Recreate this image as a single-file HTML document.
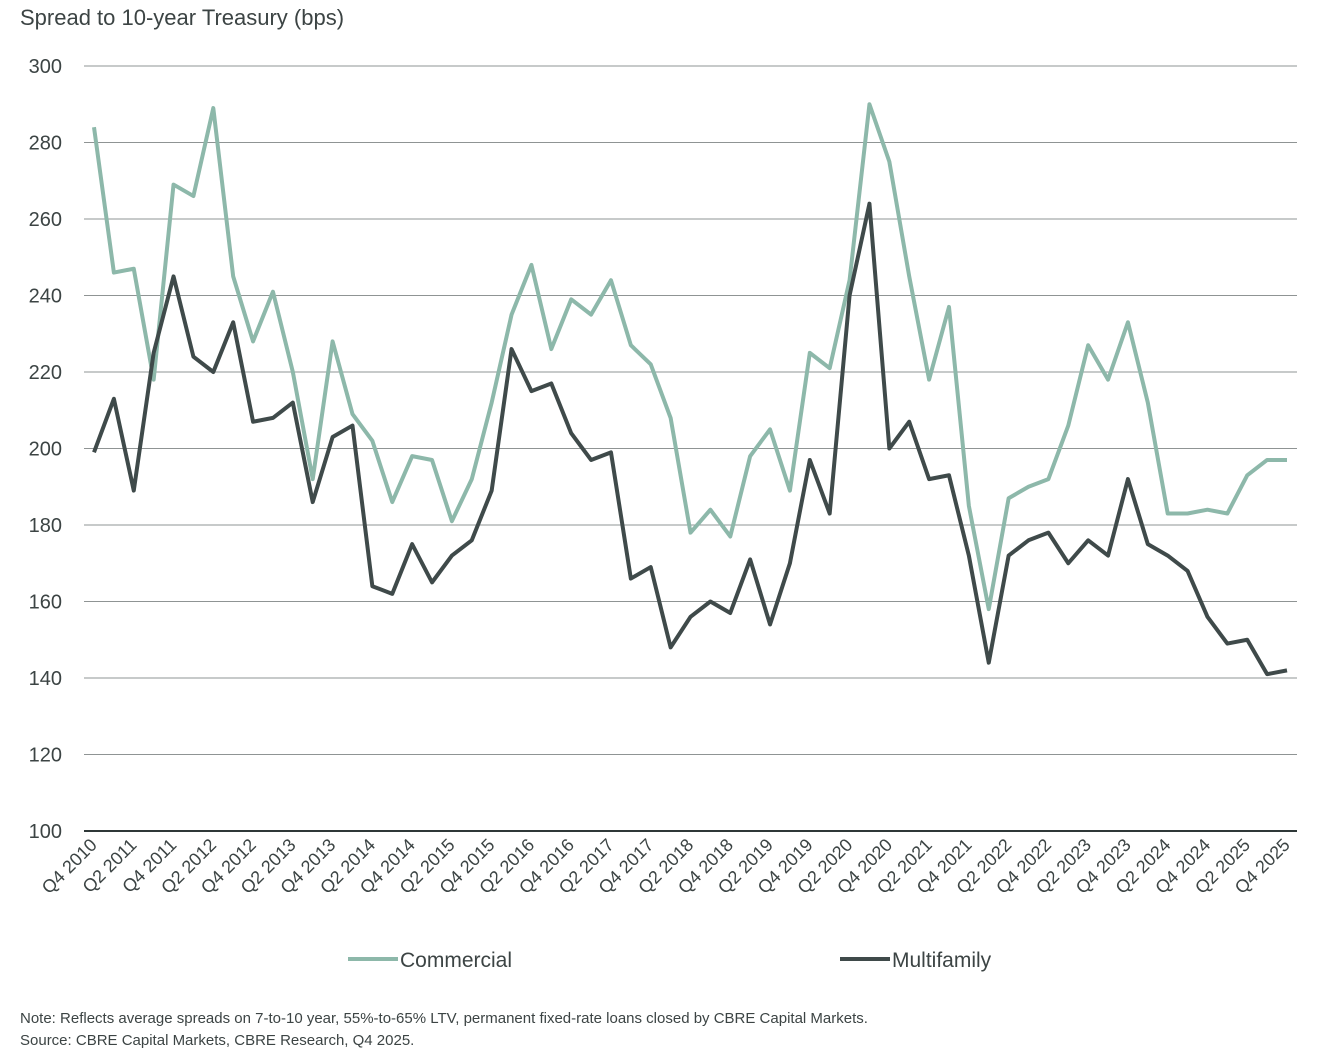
<!DOCTYPE html>
<html><head><meta charset="utf-8"><style>
body{margin:0;background:#fff;font-family:"Liberation Sans",sans-serif;}
svg text{font-family:"Liberation Sans",sans-serif;fill:#3c4444;}
</style></head><body>
<svg id="chart" width="1332" height="1056">
<text x="20" y="25" font-size="22">Spread to 10-year Treasury (bps)</text>
<g id="grid"></g><g id="xlabels"></g><g id="lines"></g>
<g>
<line x1="348" y1="959" x2="398" y2="959" stroke="#8db8aa" stroke-width="4"/>
<text x="400" y="967" font-size="21">Commercial</text>
<line x1="840" y1="959" x2="890" y2="959" stroke="#3f4a4a" stroke-width="4"/>
<text x="892" y="967" font-size="21">Multifamily</text>
</g>
<text x="20" y="1023" font-size="15">Note: Reflects average spreads on 7-to-10 year, 55%-to-65% LTV, permanent fixed-rate loans closed by CBRE Capital Markets.</text>
<text x="20" y="1045" font-size="15">Source: CBRE Capital Markets, CBRE Research, Q4 2025.</text>
</svg>
<script>
const commercial=[284,246,247,218,269,266,289,245,228,241,220,192,228,209,202,186,198,197,181,192,212,235,248,226,239,235,244,227,222,208,178,184,177,198,205,189,225,221,244,290,275,245,218,237,185,158,187,190,192,206,227,218,233,212,183,183,184,183,193,197,197];
const multifamily=[199,213,189,225,245,224,220,233,207,208,212,186,203,206,164,162,175,165,172,176,189,226,215,217,204,197,199,166,169,148,156,160,157,171,154,170,197,183,240,264,200,207,192,193,172,144,172,176,178,170,176,172,192,175,172,168,156,149,150,141,142];
const yTicks=[100,120,140,160,180,200,220,240,260,280,300];
const quarters=[];for(let y=2010;y<=2025;y++){for(const q of[2,4]){if(y===2010&&q===2)continue;quarters.push('Q'+q+' '+y);}}
const NS='http://www.w3.org/2000/svg';
const X0=94,X1=1287,Y0=831,Y1=66;
const n=commercial.length;
const xs=i=>X0+(X1-X0)*i/(n-1);
const ys=v=>Y0-(v-100)*(Y0-Y1)/200;
function mk(t,a,p){const e=document.createElementNS(NS,t);for(const k in a)e.setAttribute(k,a[k]);p.appendChild(e);return e;}
const grid=document.getElementById('grid');
yTicks.forEach(v=>{
 const l=mk('line',{x1:84,x2:1297,y1:ys(v),y2:ys(v),stroke:v===100?'#2f3838':'#8f9494','stroke-width':v===100?2:1},grid);
 
 
 const t=mk('text',{x:62,y:ys(v)+7,'text-anchor':'end','font-size':20},grid);t.textContent=v;
 
 
});
const xl=document.getElementById('xlabels');
quarters.forEach((q,k)=>{
 const x=xs(k*2)+4,y=846;
 const t=mk('text',{x:x,y:y,'text-anchor':'end','font-size':18,transform:`rotate(-45 ${x} ${y})`},xl);t.textContent=q;
 
 
});
const lg=document.getElementById('lines');
[[commercial,'#8db8aa','commercial-line'],[multifamily,'#3f4a4a','multifamily-line']].forEach(([d,c,nm])=>{
 const p=mk('polyline',{points:d.map((v,i)=>xs(i)+','+ys(v)).join(' '),fill:'none',stroke:c,'stroke-width':4,'stroke-linejoin':'round'},lg);
 
 
});
</script>
</body></html>
